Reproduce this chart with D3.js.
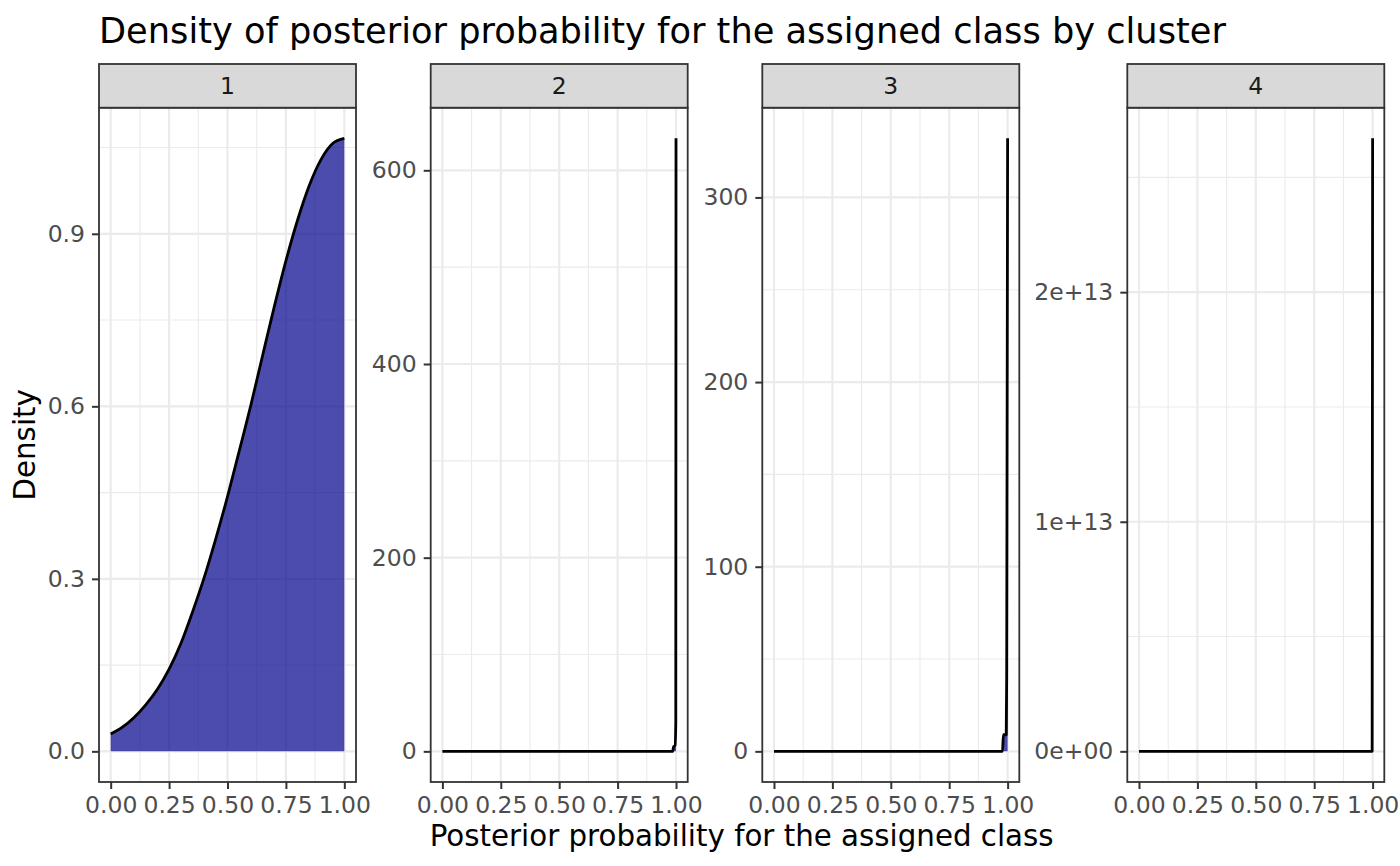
<!doctype html>
<html>
<head>
<style>
  body { margin: 0; background: #fff; }
  text { font-family: "DejaVu Sans", sans-serif; }
</style>
</head>
<body>
    <div class="container"></div>

    <script src="https://d3js.org/d3.v7.min.js"></script>

    <script>
        // data
        const clusters = ['1', '2', '3', '4'];

        const xs1 = [0, 0.05, 0.1, 0.15, 0.2, 0.25, 0.3, 0.35, 0.4, 0.45, 0.5, 0.55, 0.6, 0.65, 0.7, 0.75, 0.8, 0.85, 0.9, 0.95, 1.0];
        const dens1 = [0.030, 0.042, 0.059, 0.081, 0.108, 0.143, 0.187, 0.242, 0.302, 0.370, 0.443, 0.522, 0.602, 0.688, 0.773, 0.853, 0.924, 0.984, 1.029, 1.057, 1.066];

        const xs2 = [0, 0.985, 0.99, 0.996, 0.999, 1.0];
        const dens2 = [0, 0, 5, 6, 30, 633];

        const xs3 = [0, 0.978, 0.982, 0.994, 0.996, 1.0];
        const dens3 = [0, 0, 9, 9, 40, 332];

        const xs4 = [0, 0.998, 1.0];
        const dens4 = [0, 0, 2.67e13];

        const xTicks = [0, 0.25, 0.5, 0.75, 1];
        const xTickLabels = ['0.00', '0.25', '0.50', '0.75', '1.00'];
        const xMinor = [0.125, 0.375, 0.625, 0.875];

        const yTicks = [[0, 0.3, 0.6, 0.9], [0, 200, 400, 600], [0, 100, 200, 300], [0, 1e13, 2e13]];
        const yTickLabels = [['0.0', '0.3', '0.6', '0.9'], ['0', '200', '400', '600'], ['0', '100', '200', '300'], ['0e+00', '1e+13', '2e+13']];
        const yMinor = [[0.15, 0.45, 0.75, 1.05], [100, 300, 500], [50, 150, 250], [5e12, 1.5e13, 2.5e13]];

        const xsAll = [xs1, xs2, xs3, xs4];
        const densAll = [dens1, dens2, dens3, dens4];

        const titleText = 'Density of posterior probability for the assigned class by cluster';
        const xTitle = 'Posterior probability for the assigned class';
        const yTitle = 'Density';

        // layout
        const W = 1400, H = 866;
        const panelLefts = [99, 430.7, 762.3, 1127.3];
        const pw = 257, stripTop = 64, panelTop = 107.7, panelBottom = 782;
        const ph = panelBottom - panelTop;
        const tickFont = 23.5;

        const svg = d3.select('.container').append('svg').attr('width', W).attr('height', H);
        svg.append('rect').attr('width', W).attr('height', H).attr('fill', '#fff');

        clusters.forEach((c, i) => {
            const pts = xsAll[i].map((v, j) => [v, densAll[i][j]]);
            const ymax = d3.max(densAll[i]);
            const x = d3.scaleLinear().domain([-0.05, 1.05]).range([0, pw]);
            const y = d3.scaleLinear().domain([-0.05 * ymax, 1.05 * ymax]).range([ph, 0]);

            const g = svg.append('g').attr('transform', `translate(${panelLefts[i]},${panelTop})`);

            // grid
            g.selectAll('.ymin').data(yMinor[i]).enter().append('line')
                .attr('x1', 0).attr('x2', pw).attr('y1', d => y(d)).attr('y2', d => y(d))
                .attr('stroke', '#EBEBEB').attr('stroke-width', 1.1);
            g.selectAll('.xmin').data(xMinor).enter().append('line')
                .attr('y1', 0).attr('y2', ph).attr('x1', d => x(d)).attr('x2', d => x(d))
                .attr('stroke', '#EBEBEB').attr('stroke-width', 1.1);
            g.selectAll('.ymaj').data(yTicks[i]).enter().append('line')
                .attr('x1', 0).attr('x2', pw).attr('y1', d => y(d)).attr('y2', d => y(d))
                .attr('stroke', '#EBEBEB').attr('stroke-width', 2.2);
            g.selectAll('.xmaj').data(xTicks).enter().append('line')
                .attr('y1', 0).attr('y2', ph).attr('x1', d => x(d)).attr('x2', d => x(d))
                .attr('stroke', '#EBEBEB').attr('stroke-width', 2.2);

            // density
            const area = d3.area().x(d => x(d[0])).y0(y(0)).y1(d => y(d[1])).curve(d3.curveMonotoneX);
            const line = d3.line().x(d => x(d[0])).y(d => y(d[1])).curve(d3.curveMonotoneX);
            g.append('path').datum(pts).attr('d', area).attr('fill', '#00008B').attr('fill-opacity', 0.7);
            g.append('path').datum(pts).attr('d', line).attr('fill', 'none')
                .attr('stroke', '#000').attr('stroke-width', 2.8).attr('stroke-linejoin', 'round');

            // border
            g.append('rect').attr('width', pw).attr('height', ph)
                .attr('fill', 'none').attr('stroke', '#333333').attr('stroke-width', 1.8);

            // strip
            g.append('rect').attr('y', stripTop - panelTop).attr('width', pw).attr('height', panelTop - stripTop)
                .attr('fill', '#D9D9D9').attr('stroke', '#333333').attr('stroke-width', 1.8);
            g.append('text').attr('x', pw / 2).attr('y', (stripTop - panelTop) / 2).attr('dy', '0.36em')
                .attr('text-anchor', 'middle').attr('font-size', tickFont).attr('fill', '#1A1A1A').text(c);

            // axes
            const ya = g.append('g').call(d3.axisLeft(y).tickValues(yTicks[i])
                .tickFormat((d, j) => yTickLabels[i][j]).tickSize(7).tickPadding(7));
            const xa = g.append('g').attr('transform', `translate(0,${ph})`).call(d3.axisBottom(x).tickValues(xTicks)
                .tickFormat((d, j) => xTickLabels[j]).tickSize(7).tickPadding(7));
            [ya, xa].forEach(a => {
                a.select('.domain').remove();
                a.selectAll('line').attr('stroke', '#333333').attr('stroke-width', 2);
                a.selectAll('text').attr('font-family', '"DejaVu Sans", sans-serif')
                    .attr('font-size', tickFont).attr('fill', '#4D4D4D');
            });
        });

        svg.append('text').attr('x', 99).attr('y', 43).attr('font-size', 35.2).attr('fill', '#000').text(titleText);
        svg.append('text').attr('x', (panelLefts[0] + panelLefts[3] + pw) / 2).attr('y', 846)
            .attr('text-anchor', 'middle').attr('font-size', 29.3).attr('fill', '#000').text(xTitle);
        svg.append('text').attr('transform', `translate(35,${(panelTop + panelBottom) / 2}) rotate(-90)`)
            .attr('text-anchor', 'middle').attr('font-size', 29.3).attr('fill', '#000').text(yTitle);
    </script>
</body>
</html>
